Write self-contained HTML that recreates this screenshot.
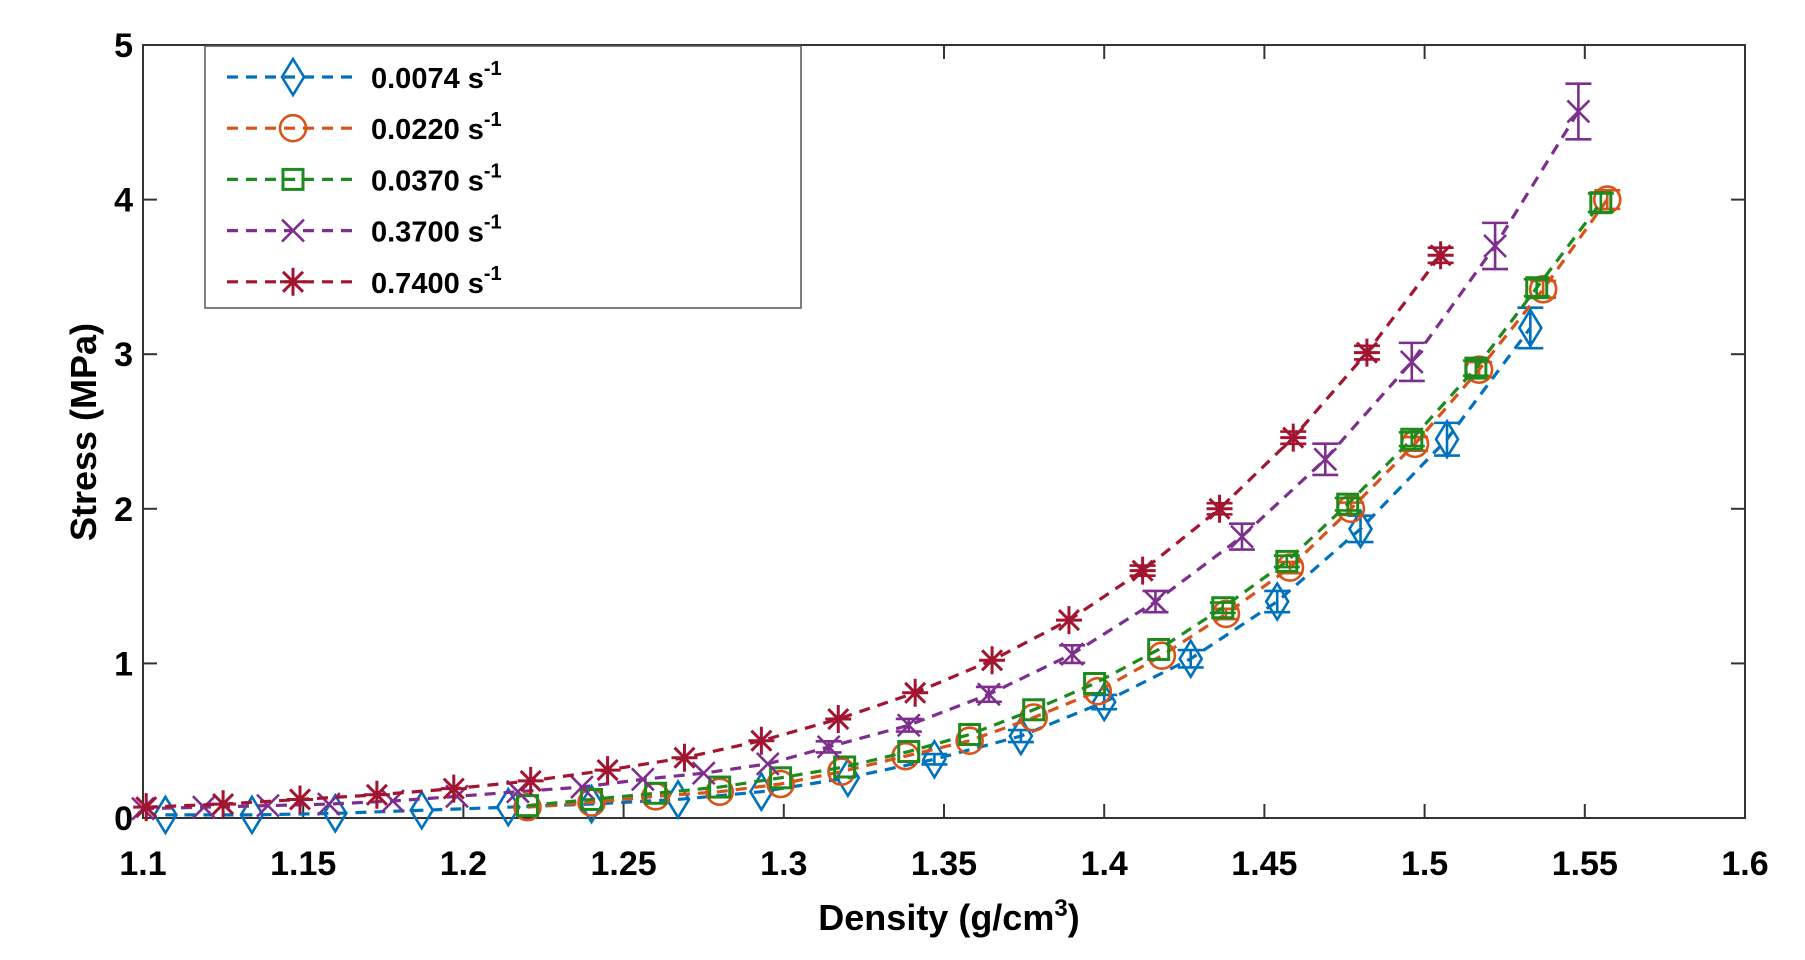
<!DOCTYPE html>
<html><head><meta charset="utf-8"><style>
html,body{margin:0;padding:0;background:#fff;}
svg{display:block;font-family:"Liberation Sans",Arial,sans-serif;}
</style></head><body>
<svg id="s" width="1805" height="960" xmlns="http://www.w3.org/2000/svg"></svg>
<script>
const L=143,R=1745,T=45,B=818;
const X=x=>L+(x-1.1)/0.5*(R-L), Y=y=>B-(y/5)*(B-T);
let s='';
for(let i=0;i<=10;i++){const x=L+i*(R-L)/10;s+=`<line x1="${x}" y1="${B}" x2="${x}" y2="${B-14}" stroke="#333" stroke-width="2"/><line x1="${x}" y1="${T}" x2="${x}" y2="${T+14}" stroke="#333" stroke-width="2"/>`;
 s+=`<text x="${x}" y="875" font-size="34" font-weight="bold" text-anchor="middle">${(1.1+i*0.05).toFixed(2).replace(/0$/,'').replace(/\.0$/,'')}</text>`;}
for(let i=0;i<=5;i++){const y=Y(i);s+=`<line x1="${L}" y1="${y}" x2="${L+14}" y2="${y}" stroke="#333" stroke-width="2"/><line x1="${R}" y1="${y}" x2="${R-14}" y2="${y}" stroke="#333" stroke-width="2"/>`;
 s+=`<text x="133" y="${y+12}" font-size="34" font-weight="bold" text-anchor="end">${i}</text>`;}
s+=`<rect x="${L}" y="${T}" width="${R-L}" height="${B-T}" fill="none" stroke="#333" stroke-width="2"/>`;
s+=`<text x="949" y="930" font-size="36" font-weight="bold" text-anchor="middle">Density (g/cm<tspan dy="-14" font-size="24">3</tspan><tspan dy="14">)</tspan></text>`;
s+=`<text transform="translate(96,432) rotate(-90)" font-size="36" font-weight="bold" text-anchor="middle">Stress (MPa)</text>`;
function mk(t,x,y,c){const r=13;
 if(t=='d')return `<polygon points="${x},${y-r-5} ${x+r-2},${y} ${x},${y+r+5} ${x-r+2},${y}" fill="none" stroke="${c}" stroke-width="2.6"/>`;
 if(t=='o')return `<circle cx="${x}" cy="${y}" r="${r}" fill="none" stroke="${c}" stroke-width="2.6"/>`;
 if(t=='s')return `<rect x="${x-10}" y="${y-10}" width="20" height="20" fill="none" stroke="${c}" stroke-width="3"/>`;
 if(t=='x')return `<path d="M${x-11},${y-11}L${x+11},${y+11}M${x+11},${y-11}L${x-11},${y+11}" stroke="${c}" stroke-width="2.6"/>`;
 if(t=='*')return `<path d="M${x-10},${y-10}L${x+10},${y+10}M${x+10},${y-10}L${x-10},${y+10}M${x},${y-14}L${x},${y+14}M${x-13},${y}L${x+13},${y}" stroke="${c}" stroke-width="3"/>`;}
const S=[
['#0072BD','d',[1.107,1.134,1.160,1.187,1.214,1.240,1.267,1.293,1.320,1.347,1.374,1.400,1.427,1.454,1.480,1.507,1.533],[0.02,0.02,0.03,0.05,0.07,0.09,0.12,0.17,0.26,0.38,0.53,0.75,1.03,1.40,1.87,2.45,3.17],y=>0.02+0.035*y],
['#D95319','o',[1.220,1.240,1.260,1.280,1.299,1.318,1.338,1.358,1.378,1.398,1.418,1.438,1.458,1.477,1.497,1.517,1.537,1.557],[0.07,0.10,0.14,0.17,0.22,0.30,0.40,0.50,0.65,0.82,1.05,1.32,1.62,2.00,2.42,2.90,3.42,4.00],y=>0.02+0.01*y],
['#1E8A1E','s',[1.220,1.240,1.260,1.280,1.299,1.319,1.339,1.358,1.378,1.397,1.417,1.437,1.457,1.476,1.496,1.516,1.535,1.555],[0.08,0.12,0.16,0.20,0.26,0.33,0.43,0.54,0.70,0.87,1.09,1.36,1.66,2.03,2.45,2.91,3.43,3.98],y=>0.02+0.01*y],
['#7E2F8E','x',[1.100,1.119,1.139,1.158,1.178,1.198,1.217,1.237,1.256,1.275,1.295,1.314,1.339,1.364,1.390,1.416,1.443,1.469,1.496,1.522,1.548],[0.06,0.07,0.08,0.09,0.11,0.14,0.17,0.20,0.25,0.29,0.35,0.46,0.60,0.80,1.06,1.40,1.82,2.32,2.95,3.70,4.57],y=>0.02+0.035*y],
['#A2142F','*',[1.101,1.125,1.149,1.173,1.197,1.221,1.245,1.269,1.293,1.317,1.341,1.365,1.389,1.412,1.436,1.459,1.482,1.505],[0.07,0.09,0.12,0.15,0.19,0.24,0.31,0.39,0.50,0.64,0.81,1.02,1.28,1.60,2.00,2.46,3.01,3.64],y=>0.02+0.008*y]];
for(const [c,t,xs,ys,e] of S){
 s+=`<polyline points="${xs.map((x,i)=>X(x)+','+Y(ys[i])).join(' ')}" fill="none" stroke="${c}" stroke-width="3.2" stroke-dasharray="11,8"/>`;
 xs.forEach((x,i)=>{const px=X(x),py=Y(ys[i]),er=e(ys[i])*(B-T)/5;
  if(er>5)s+=`<path d="M${px},${py-er}L${px},${py+er}M${px-13},${py-er}L${px+13},${py-er}M${px-13},${py+er}L${px+13},${py+er}" stroke="${c}" stroke-width="2.6"/>`;
  s+=mk(t,px,py,c);});}
s+=`<rect x="205" y="46" width="596" height="262" fill="#fff" stroke="#555" stroke-width="1.5"/>`;
const lab=['0.0074','0.0220','0.0370','0.3700','0.7400'];
S.forEach((ser,i)=>{const y=77+i*51.2;
 s+=`<line x1="227" y1="${y}" x2="359" y2="${y}" stroke="${ser[0]}" stroke-width="3.2" stroke-dasharray="11,8"/>`+mk(ser[1],293,y,ser[0]);
 s+=`<text x="371" y="${y+11}" font-size="29" font-weight="bold">${lab[i]} s<tspan dy="-13" font-size="20">-1</tspan></text>`;});
document.getElementById('s').innerHTML=s;
</script>
</body></html>
